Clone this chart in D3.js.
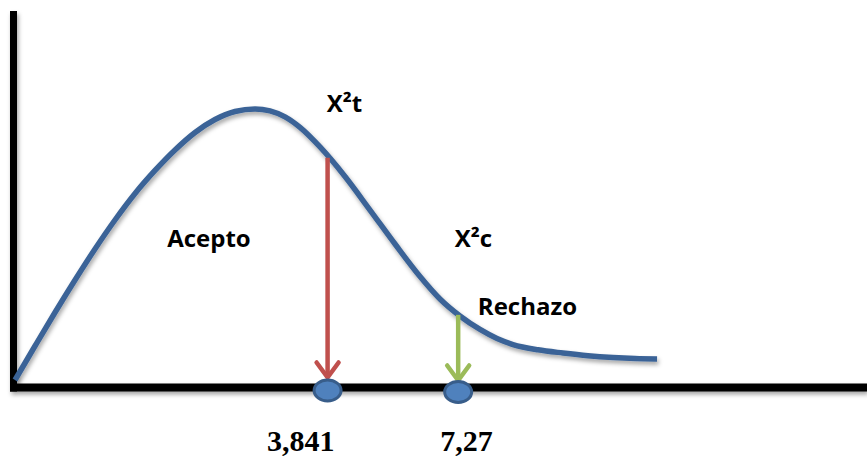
<!DOCTYPE html>
<html>
<head>
<meta charset="utf-8">
<script src="https://cdn.jsdelivr.net/npm/d3@7"></script>
<style>
  html, body { margin: 0; padding: 0; background: #ffffff; }
  svg { display: block; }
</style>
</head>
<body>
<svg id="chart" width="867" height="459"></svg>
<script>
// ---- data (schematic units: x 0..100 along the axis, y 0..100 up the axis) ----
const curveX = [0.18, 2.52, 4.86, 7.21, 9.55, 11.89, 14.24, 16.58, 18.92, 21.27, 23.61, 25.95, 28.30,
                30.05, 31.81, 33.57, 35.91, 38.84, 41.77, 44.70, 47.63, 49.97, 52.31, 54.66, 56.65,
                58.52, 61.45, 64.38, 67.31, 70.24, 72.82, 75.40];
const curveY = [1.99, 11.02, 19.92, 28.55, 36.79, 44.49, 51.53, 57.64, 63.08, 67.73, 71.18, 73.31, 73.97,
                73.47, 71.87, 69.08, 63.88, 56.04, 47.14, 38.11, 29.48, 23.51, 18.99, 15.41, 13.01,
                11.42, 10.01, 9.16, 8.45, 7.97, 7.70, 7.57];

const markerLabels = ["3,841", "7,27"];
const markerX = [36.8, 52.1];
const markerTop = [61.0, 19.3];
const markerLabelX = [29.7, 50.0];
const markerColors = ["#c0504d", "#9bbb59"];

const textLabels = ["Acepto", "X\u00b2t", "X\u00b2c", "Rechazo"];
const textX = [18.0, 36.7, 51.7, 54.4];
const textY = [37.3, 73.2, 37.3, 19.3];

// ---- layout ----
const svg = d3.select("#chart");
const x = d3.scaleLinear().domain([0, 100]).range([13.5, 867]);
const y = d3.scaleLinear().domain([0, 100]).range([387.5, 11]);

const defs = svg.append("defs");
const sh = defs.append("filter").attr("id", "shadow")
  .attr("x", "-10%").attr("y", "-10%").attr("width", "130%").attr("height", "150%");
sh.append("feDropShadow").attr("dx", 1.5).attr("dy", 3).attr("stdDeviation", 2.2)
  .attr("flood-color", "#000").attr("flood-opacity", 0.35);

// axes
const axes = svg.append("g").attr("filter", "url(#shadow)");
axes.append("line")
  .attr("x1", x(0)).attr("x2", x(0))
  .attr("y1", y(100)).attr("y2", y(0) + 4)
  .attr("stroke", "#000").attr("stroke-width", 7);
axes.append("line")
  .attr("x1", x(0) - 3.5).attr("x2", x(100))
  .attr("y1", y(0)).attr("y2", y(0))
  .attr("stroke", "#000").attr("stroke-width", 8);

// curve
const pts = curveX.map((d, i) => [d, curveY[i]]);
const line = d3.line().x(d => x(d[0])).y(d => y(d[1])).curve(d3.curveMonotoneX);
svg.append("path")
  .datum(pts)
  .attr("d", line)
  .attr("fill", "none")
  .attr("stroke", "#3b6397")
  .attr("stroke-width", 5.5)
  .attr("filter", "url(#shadow)");

// arrows
markerX.forEach((mx, i) => {
  const g = svg.append("g");
  const cx = x(mx);
  const tip = y(0) - 10 + i * 3;
  g.append("line")
    .attr("x1", cx).attr("x2", cx)
    .attr("y1", y(markerTop[i])).attr("y2", tip)
    .attr("stroke", markerColors[i]).attr("stroke-width", 4.5);
  g.append("path")
    .attr("d", `M${cx - 11},${tip - 15} L${cx},${tip} L${cx + 11},${tip - 15}`)
    .attr("fill", "none")
    .attr("stroke", markerColors[i]).attr("stroke-width", 4.5)
    .attr("stroke-linecap", "round").attr("stroke-linejoin", "round");
});

// ellipses on the axis
svg.append("g").selectAll("ellipse")
  .data(markerX)
  .join("ellipse")
  .attr("cx", d => x(d))
  .attr("cy", (d, i) => y(0) + 3 + i * 1.5)
  .attr("rx", 13.5)
  .attr("ry", 10.5)
  .attr("fill", "#4f81bd")
  .attr("stroke", "#385d8a")
  .attr("stroke-width", 3);

// tick labels
svg.append("g").selectAll("text")
  .data(markerLabels)
  .join("text")
  .attr("x", (d, i) => x(markerLabelX[i]))
  .attr("y", y(0) + 63)
  .attr("font-family", "'Liberation Serif', 'Times New Roman', serif")
  .attr("font-weight", "bold")
  .attr("font-size", 30)
  .attr("fill", "#000")
  .text(d => d);

// region labels
svg.append("g").selectAll("text")
  .data(textLabels)
  .join("text")
  .attr("x", (d, i) => x(textX[i]))
  .attr("y", (d, i) => y(textY[i]))
  .attr("font-family", "'Open Sans', 'Noto Sans', sans-serif")
  .attr("font-weight", "bold")
  .attr("font-size", 24)
  .attr("fill", "#000")
  .text(d => d);
</script>
</body>
</html>
